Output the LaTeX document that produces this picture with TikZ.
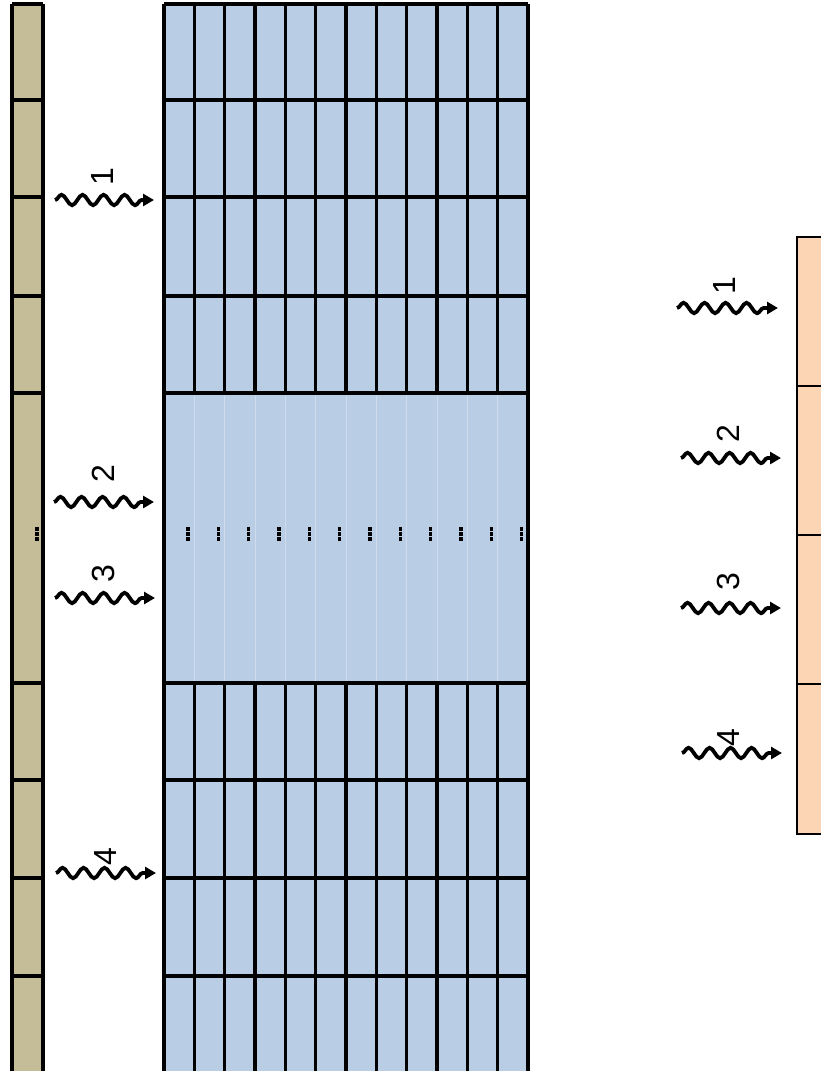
\documentclass[tikz,border=0pt]{standalone}
\usepackage{fontspec}
\setmainfont{Liberation Sans}
\usetikzlibrary{decorations.pathmorphing,arrows.meta}
\definecolor{tan}{RGB}{196,189,151}
\definecolor{cellblue}{RGB}{185,205,229}
\definecolor{peach}{RGB}{252,213,181}
\definecolor{faint}{RGB}{205,219,236}
\begin{document}
\begin{tikzpicture}[x=1pt,y=-1pt,
  gridline/.style={line width=3.1pt, black},
  thinbox/.style={line width=2.2pt, black},
  wave/.style={line width=3.8pt, decorate,
    decoration={snake, segment length=21pt, amplitude=5.2pt, post length=9pt},
    -{Triangle[length=11pt,width=12pt]}},
  num/.style={font=\fontsize{32}{32}\selectfont, rotate=90, inner sep=0pt},
  dotm/.style={rectangle, fill=black, inner sep=0pt, minimum size=3.2pt}]
\useasboundingbox (0,0) rectangle (821,1071);
\clip (0,0) rectangle (821,1071);
% tan column
\fill[tan] (12,4) rectangle (43,1085);
\foreach \y in {4,100,197,296,393,683,780,878,976,1073}
  \draw[gridline] (12,\y) -- (43,\y);
\draw[gridline] (12,4) -- (12,1085);
\draw[gridline] (43,4) -- (43,1085);
\foreach \d in {529,534,539} \node[dotm] at (37,\d) {};
% blue grid
\fill[cellblue] (164,4) rectangle (528,1085);
\foreach \i in {1,...,11} {
  \pgfmathsetmacro{\xx}{164+30.333*\i}
  \draw[gridline] (\xx,4) -- (\xx,393);
  \draw[faint, line width=0.8pt] (\xx,393) -- (\xx,683);
  \draw[gridline] (\xx,683) -- (\xx,1085);
}
\foreach \y in {4,100,197,296,393,683,780,878,976,1073}
  \draw[gridline] (164,\y) -- (528,\y);
\draw[gridline] (164,4) -- (164,1085);
\draw[gridline] (528,4) -- (528,1085);
\foreach \i in {0,...,11} {
  \pgfmathsetmacro{\xx}{188+30.333*\i}
  \foreach \d in {529,534,539} \node[dotm] at (\xx,\d) {};
}
% peach column
\fill[peach] (797,237) rectangle (830,834);
\draw[thinbox] (830,237) -- (797,237) -- (797,834) -- (830,834);
\foreach \y in {386,535,684}
  \draw[thinbox] (797,\y) -- (830,\y);
% left waves
\coordinate (a1s) at (55,200);  \coordinate (a1e) at (154,200);
\coordinate (a2s) at (54,502);  \coordinate (a2e) at (154,502);
\coordinate (a3s) at (55,598);  \coordinate (a3e) at (155,598);
\coordinate (a4s) at (56,873);  \coordinate (a4e) at (156,873);
\draw[wave] (a1s) -- (a1e);
\draw[wave] (a2s) -- (a2e);
\draw[wave] (a3s) -- (a3e);
\draw[wave] (a4s) -- (a4e);
\node[num] (l1) at (102,177) {1};
\node[num] (l2) at (103,474) {2};
\node[num] (l3) at (103,574) {3};
\node[num] (l4) at (105,857) {4};
% right waves
\coordinate (b1s) at (677,308); \coordinate (b1e) at (778,308);
\coordinate (b2s) at (681,458); \coordinate (b2e) at (781,458);
\coordinate (b3s) at (681,608); \coordinate (b3e) at (781,608);
\coordinate (b4s) at (682,753); \coordinate (b4e) at (782,753);
\draw[wave] (b1s) -- (b1e);
\draw[wave] (b2s) -- (b2e);
\draw[wave] (b3s) -- (b3e);
\draw[wave] (b4s) -- (b4e);
\node[num] (r1) at (724,286) {1};
\node[num] (r2) at (728,434) {2};
\node[num] (r3) at (728,582) {3};
\node[num] (r4) at (728,738) {4};
\end{tikzpicture}
\end{document}
